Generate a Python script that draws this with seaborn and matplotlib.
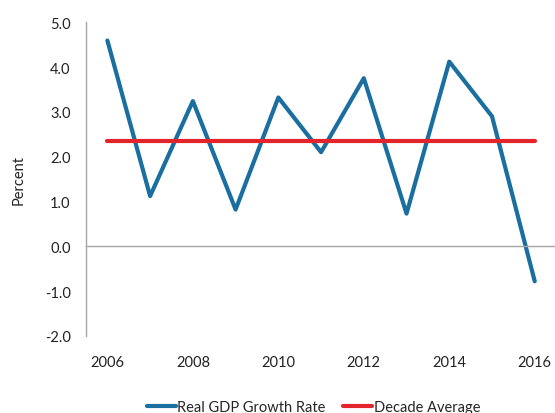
import numpy as np
import pandas as pd
import matplotlib
matplotlib.use("Agg")
import matplotlib.pyplot as plt
import seaborn as sns

years = [2006, 2007, 2008, 2009, 2010, 2011, 2012, 2013, 2014, 2015, 2016]
gdp_growth = [4.59, 1.12, 3.24, 0.82, 3.32, 2.10, 3.75, 0.73, 4.12, 2.90, -0.78]
decade_avg = 2.35
label_years = [2006, 2008, 2010, 2012, 2014, 2016]
yticks = [-2.0, -1.0, 0.0, 1.0, 2.0, 3.0, 4.0, 5.0]

BLUE = "#1b6fa0"
RED = "#e3242b"
GRAY = "#a6a6a6"


def main():
    sns.set_style("white")
    plt.rcParams["font.family"] = ["Lato", "DejaVu Sans"]
    plt.rcParams["font.size"] = 10.5

    df = pd.DataFrame({"year": years, "gdp": gdp_growth,
                       "avg": [decade_avg] * len(years)})

    fig = plt.figure(figsize=(5.55, 4.14), dpi=100)
    ax = fig.add_axes([0.155, 0.186, 0.847, 0.758])

    sns.lineplot(data=df, x="year", y="gdp", ax=ax, color=BLUE, lw=3.0,
                 solid_capstyle="round", label="Real GDP Growth Rate", legend=False)
    sns.lineplot(data=df, x="year", y="avg", ax=ax, color=RED, lw=3.0,
                 solid_capstyle="round", label="Decade Average", legend=False)

    ax.set_xlim(years[0] - 0.5, years[-1] + 0.5)
    ax.set_ylim(yticks[0], yticks[-1])
    ax.set_yticks(yticks)
    ax.set_yticklabels([f"{v:.1f}" for v in yticks], color="#222222")
    ax.set_ylabel("Percent", color="#222222", labelpad=14)
    ax.set_xlabel("")

    # x axis line sits at zero, ticks between categories
    ax.spines["bottom"].set_position(("data", 0))
    ax.spines["top"].set_visible(False)
    ax.spines["right"].set_visible(False)
    for s in ["bottom", "left"]:
        ax.spines[s].set_color(GRAY)
        ax.spines[s].set_linewidth(1.0)
    ax.set_xticks([y + 0.5 for y in years[:-1]])
    ax.set_xticklabels([])
    ax.tick_params(axis="x", direction="out", length=4, color=GRAY, width=1.0)
    ax.tick_params(axis="y", direction="out", length=4, color=GRAY, width=1.0, pad=7)

    sec = ax.secondary_xaxis("bottom")
    sec.set_xticks(label_years)
    sec.set_xticklabels([str(y) for y in label_years], color="#222222")
    sec.tick_params(length=0, pad=14)
    sec.spines["bottom"].set_visible(False)

    handles, labels = ax.get_legend_handles_labels()
    fig.legend(handles, labels, loc="lower center", bbox_to_anchor=(0.565, -0.035),
               ncol=2, frameon=False, handlelength=2.0, handletextpad=0.1,
               columnspacing=1.2)

    fig.savefig("out.png", dpi=100)


if __name__ == "__main__":
    main()
